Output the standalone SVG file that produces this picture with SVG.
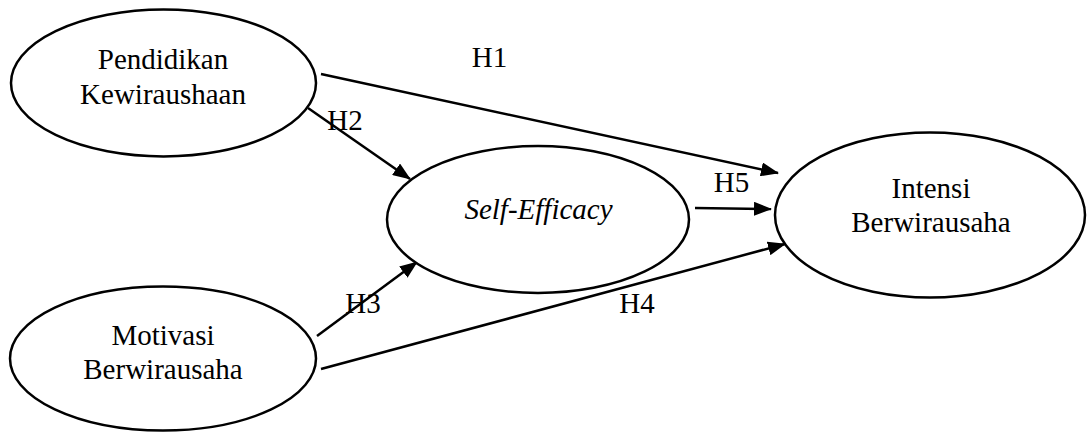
<svg xmlns="http://www.w3.org/2000/svg" width="1088" height="432" viewBox="0 0 1088 432">
  <style>
    .node ellipse { fill: #ffffff; stroke: #000000; stroke-width: 2.5; }
    .lbl { font-family: 'Liberation Serif', 'DejaVu Serif', serif; font-size: 29px; fill: #000000; text-anchor: middle; }
    .it { font-style: italic; }
    .edge { stroke: #000000; stroke-width: 2.5; fill: none; marker-end: url(#arrow); }
  </style>
  <defs>
    <marker id="arrow" markerUnits="userSpaceOnUse" markerWidth="18" markerHeight="14" refX="17" refY="7" orient="auto">
      <path d="M0,0 L18,7 L0,14 Z" fill="#000000"/>
    </marker>
  </defs>
  <rect width="1088" height="432" fill="#ffffff"/>

  <g id="connectors">
    <line class="edge" x1="321" y1="74" x2="778" y2="173"/>
    <line class="edge" x1="308" y1="108" x2="410" y2="179"/>
    <line class="edge" x1="317" y1="336" x2="417" y2="262"/>
    <line class="edge" x1="321" y1="369" x2="785" y2="244"/>
    <line class="edge" x1="695" y1="208" x2="771" y2="209"/>
  </g>

  <g id="pendidikan" class="node">
    <ellipse cx="163.5" cy="83" rx="152.5" ry="73.5"/>
    <text class="lbl" x="163" y="69" font-family="Liberation Serif">Pendidikan</text>
    <text class="lbl" x="163" y="104" font-family="Liberation Serif">Kewiraushaan</text>
  </g>

  <g id="motivasi" class="node">
    <ellipse cx="163" cy="358.5" rx="153" ry="72"/>
    <text class="lbl" x="163" y="345" font-family="Liberation Serif">Motivasi</text>
    <text class="lbl" x="163" y="379" font-family="Liberation Serif">Berwirausaha</text>
  </g>

  <g id="self-efficacy" class="node">
    <ellipse cx="538" cy="219.5" rx="151" ry="73.5"/>
    <text class="lbl it" x="538.5" y="219" font-family="Liberation Serif">Self-Efficacy</text>
  </g>

  <g id="intensi" class="node">
    <ellipse cx="930" cy="215" rx="155" ry="82.5"/>
    <text class="lbl" x="931" y="198" font-family="Liberation Serif">Intensi</text>
    <text class="lbl" x="931" y="232" font-family="Liberation Serif">Berwirausaha</text>
  </g>

  <g id="labels">
    <text class="lbl" x="489.5" y="67" font-family="Liberation Serif">H1</text>
    <text class="lbl" x="345" y="130" font-family="Liberation Serif">H2</text>
    <text class="lbl" x="363" y="313" font-family="Liberation Serif">H3</text>
    <text class="lbl" x="637" y="313" font-family="Liberation Serif">H4</text>
    <text class="lbl" x="731.5" y="192" font-family="Liberation Serif">H5</text>
  </g>
</svg>
